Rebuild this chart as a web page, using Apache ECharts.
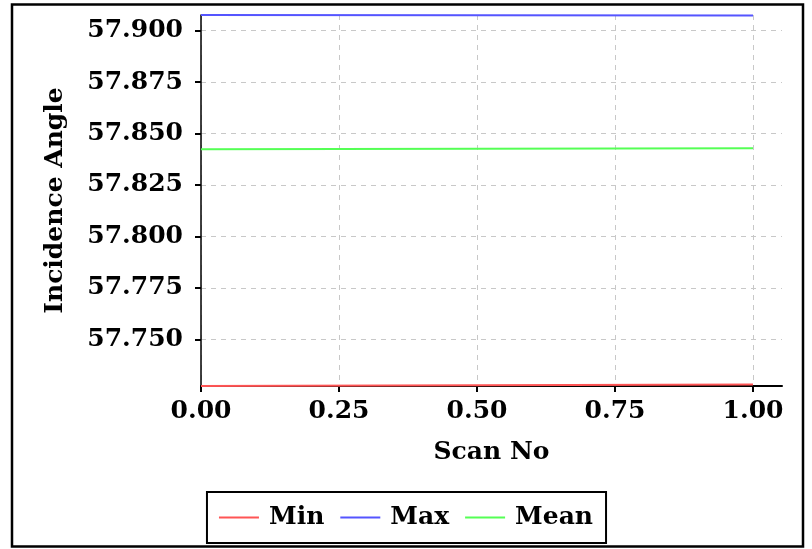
<!doctype html>
<html>
	<head>
		<meta charset="utf-8">
		<title>Incidence Angle</title>
		<script type="text/javascript" src="https://cdn.jsdelivr.net/npm/echarts@6/dist/echarts.min.js"></script>
	</head>
	<body style="margin:0;padding:0;background:#fff">
		<div id="tb" style="width:812px;height:549px;"></div>
		<script>
			// data
			var scanNo = [0, 1];
			var minVals = [57.7273, 57.7280];
			var maxVals = [57.9076, 57.9074];
			var meanVals = [57.8423, 57.8429];
			var yTicks = [57.750, 57.775, 57.800, 57.825, 57.850, 57.875, 57.900];
			var xTicks = [0, 0.25, 0.5, 0.75, 1];

			var font = 'DejaVu Serif';
			var fs = 25;
			var pairs = function(ys) {
				return scanNo.map(function(x, i) { return [x, ys[i]]; });
			};
			var mk = function(name, color, ys) {
				return {
					name: name,
					type: 'line',
					symbol: 'none',
					silent: true,
					lineStyle: { color: color, width: 2 },
					itemStyle: { color: color },
					data: pairs(ys)
				};
			};

			var chart = echarts.init(document.getElementById('tb'));
			chart.setOption({
				animation: false,
				textStyle: { fontFamily: font },
				graphic: [{
					type: 'rect',
					shape: { x: 12, y: 4.5, width: 791, height: 542 },
					style: { fill: 'none', stroke: '#000', lineWidth: 2.5 },
					silent: true
				}],
				grid: { left: 201, right: 30, top: 15, bottom: 163 },
				legend: {
					left: 'center',
					top: 492,
					padding: [13, 13, 13, 12],
					borderColor: '#000',
					borderWidth: 2,
					icon: 'rect',
					itemWidth: 40,
					itemHeight: 2,
					itemGap: 16,
					textStyle: { fontFamily: font, fontWeight: 'bold', fontSize: fs, color: '#000', padding: [0, 0, 0, 5] },
					data: ['Min', 'Max', 'Mean']
				},
				xAxis: {
					type: 'value',
					min: 0,
					max: 1.0525,
					name: 'Scan No',
					nameLocation: 'middle',
					nameGap: 54,
					nameTextStyle: { fontFamily: font, fontWeight: 'bold', fontSize: fs, color: '#000' },
					axisLine: { onZero: false, lineStyle: { color: '#000', width: 2 } },
					axisTick: { show: true, length: 6, lineStyle: { color: '#000', width: 2 }, customValues: xTicks },
					axisLabel: {
						customValues: xTicks,
						margin: 13,
						fontFamily: font, fontWeight: 'bold', fontSize: fs, color: '#000',
						formatter: function(v) { return v.toFixed(2); }
					},
					splitLine: { show: true, lineStyle: { color: '#c8c8c8', type: [5, 5], width: 1 } }
				},
				yAxis: {
					type: 'value',
					min: 'dataMin',
					max: 'dataMax',
					name: 'Incidence Angle',
					nameLocation: 'middle',
					nameGap: 133,
					nameTextStyle: { fontFamily: font, fontWeight: 'bold', fontSize: fs, color: '#000' },
					axisLine: { show: true, lineStyle: { color: '#000', width: 1.5 } },
					axisTick: { show: true, length: 6, lineStyle: { color: '#000', width: 2 }, customValues: yTicks },
					axisLabel: {
						customValues: yTicks,
						margin: 18,
						fontFamily: font, fontWeight: 'bold', fontSize: fs, color: '#000',
						formatter: function(v) { return v.toFixed(3); }
					},
					splitLine: { show: true, lineStyle: { color: '#c8c8c8', type: [5, 5], width: 1 } }
				},
				series: [
					mk('Min', '#ff5555', minVals),
					mk('Max', '#5555ff', maxVals),
					mk('Mean', '#55ff55', meanVals)
				]
			});
		</script>
	</body>
</html>
